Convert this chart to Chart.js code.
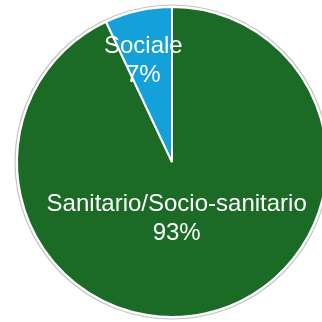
<!DOCTYPE html>
<html>
<head>
<meta charset="utf-8">
<script src="https://cdn.jsdelivr.net/npm/chart.js@4/dist/chart.umd.min.js"></script>
<style>
  html, body { margin: 0; padding: 0; background: #fff; overflow: hidden; }
  #wrap { position: relative; width: 344px; height: 324px; }
</style>
</head>
<body>
<div id="wrap"><canvas id="myChart" width="344" height="324"></canvas></div>
<script>
const categories = ['Sanitario/Socio-sanitario', 'Sociale'];
const shares = [93, 7];
const sliceColors = ['#1b6a25', '#14a0d8'];

// slice labels: name on the first line, percentage underneath
const sliceLabels = {
  id: 'sliceLabels',
  afterDatasetsDraw(chart, args, opts) {
    const c = chart.ctx;
    const meta = chart.getDatasetMeta(0);
    const total = shares.reduce((a, b) => a + b, 0);
    c.save();
    c.fillStyle = '#fff';
    c.font = opts.font;
    c.textAlign = 'center';
    c.textBaseline = 'middle';
    meta.data.forEach((arc, i) => {
      const p = arc.getProps(['x', 'y', 'startAngle', 'endAngle', 'outerRadius'], true);
      const mid = (p.startAngle + p.endAngle) / 2;
      const r = p.outerRadius * opts.radial[i];
      const x = p.x + Math.cos(mid) * r + opts.shiftX[i];
      const y = p.y + Math.sin(mid) * r;
      const pct = Math.round(shares[i] / total * 100) + '%';
      c.fillText(categories[i], x, y - opts.lineHeight / 2);
      c.fillText(pct, x, y + opts.lineHeight / 2);
    });
    c.restore();
  }
};

// thin grey rim just outside the white slice border
const rim = {
  id: 'rim',
  afterDatasetsDraw(chart) {
    const arc = chart.getDatasetMeta(0).data[0];
    if (!arc) return;
    const c = chart.ctx;
    c.save();
    c.strokeStyle = '#c4c4c4';
    c.lineWidth = 1.2;
    c.beginPath();
    c.arc(arc.x, arc.y, arc.outerRadius + 2, 0, Math.PI * 2);
    c.stroke();
    c.restore();
  }
};

const ctx = document.getElementById('myChart').getContext('2d');
const chart = new Chart(ctx, {
  type: 'pie',
  data: {
    labels: categories,
    datasets: [{
      data: shares,
      backgroundColor: sliceColors,
      borderColor: '#ffffff',
      borderWidth: 2,
      radius: 155
    }]
  },
  options: {
    responsive: false,
    animation: false,
    events: [],
    plugins: {
      legend: { display: false },
      tooltip: { enabled: false },
      sliceLabels: {
        font: '24px "Liberation Sans", Arial, sans-serif',
        lineHeight: 29,
        radial: [0.375, 0.67],
        shiftX: [-8, -6]
      }
    }
  },
  plugins: [rim, sliceLabels]
});
</script>
</body>
</html>
